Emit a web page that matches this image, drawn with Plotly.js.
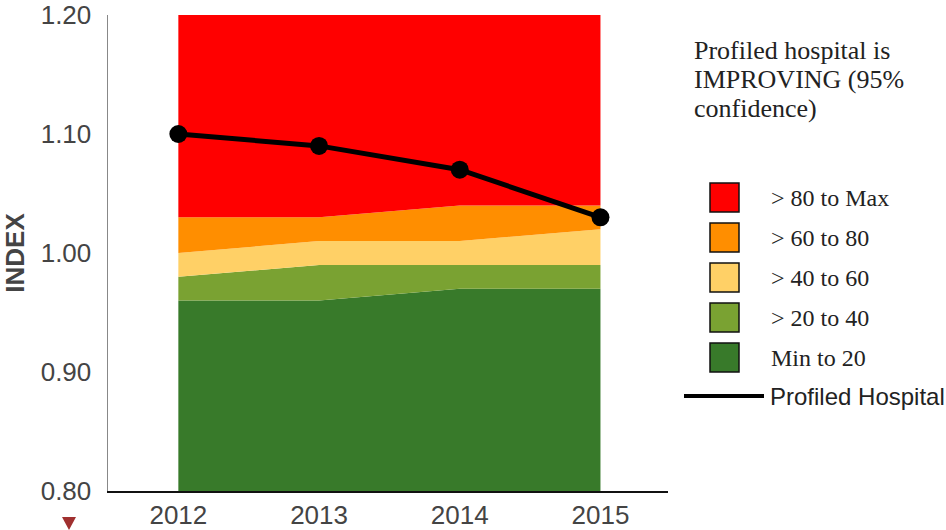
<!DOCTYPE html>
<html>
<head>
<meta charset="utf-8">
<script src="https://cdn.plot.ly/plotly-3.0.1.min.js"></script>
<style>html,body{margin:0;padding:0;background:#fff;}#chart{width:946px;height:530px;}</style>
</head>
<body>
<div id="chart"></div>
<script>
// ---- data ----
const years = [2012, 2013, 2014, 2015];
const bandNames = ["Min to 20", "> 20 to 40", "> 40 to 60", "> 60 to 80", "> 80 to Max"];
const bandColors = ["#387A2A", "#7AA232", "#FFD066", "#FF8E00", "#FF0000"];
// upper boundary of each band (cumulative)
const bandMin20   = [0.96, 0.96, 0.97, 0.97];
const band20to40  = [0.98, 0.99, 0.99, 0.99];
const band40to60  = [1.00, 1.01, 1.01, 1.02];
const band60to80  = [1.03, 1.03, 1.04, 1.04];
const band80toMax = [1.20, 1.20, 1.20, 1.20];
const hospital    = [1.10, 1.09, 1.07, 1.03];
const yTicks = [0.80, 0.90, 1.00, 1.10, 1.20];
const yTickText = ["0.80", "0.90", "1.00", "1.10", "1.20"];
const statusLines = ["Profiled hospital is", "IMPROVING (95%", "confidence)"];
const lineLegend = "Profiled Hospital";

const bands = [bandMin20, band20to40, band40to60, band60to80, band80toMax];
const traces = bands.map((b, i) => ({
  type: "scatter", mode: "lines", x: years, y: b, name: bandNames[i],
  line: {width: 0, color: bandColors[i]}, fill: i === 0 ? "tozeroy" : "tonexty",
  fillcolor: bandColors[i], hoverinfo: "skip", showlegend: false
}));
traces.push({
  type: "scatter", mode: "lines+markers", x: years, y: hospital, name: lineLegend,
  line: {color: "#000", width: 5}, marker: {color: "#000", size: 18}, showlegend: false,
  cliponaxis: false
});

const px = x => (x - 108) / 560;
const py = y => 1 - (y - 15) / 476;
const shapes = [];
const annotations = [];
// legend swatches
const legOrder = [4, 3, 2, 1, 0];
legOrder.forEach((bi, k) => {
  const top = 183 + k * 40;
  shapes.push({type: "rect", xref: "paper", yref: "paper",
    x0: px(710), x1: px(739), y0: py(top + 29), y1: py(top),
    fillcolor: bandColors[bi], line: {color: "#111", width: 1.5}});
  annotations.push({xref: "paper", yref: "paper", x: px(769), y: py(top + 15),
    xanchor: "left", yanchor: "middle", showarrow: false, text: bandNames[bi],
    font: {family: "Liberation Serif, Times New Roman, serif", size: 24, color: "#222"}});
});
shapes.push({type: "line", xref: "paper", yref: "paper",
  x0: px(684), x1: px(764), y0: py(396), y1: py(396),
  line: {color: "#000", width: 4}});
annotations.push({xref: "paper", yref: "paper", x: px(768), y: py(396),
  xanchor: "left", yanchor: "middle", showarrow: false, text: lineLegend,
  font: {family: "Liberation Sans, Arial, sans-serif", size: 24, color: "#222"}});
statusLines.forEach((t, k) => {
  annotations.push({xref: "paper", yref: "paper", x: px(692), y: py(51 + k * 29),
    xanchor: "left", yanchor: "middle", align: "left", showarrow: false, text: t,
    font: {family: "Liberation Serif, Times New Roman, serif", size: 26, color: "#222"}});
});
// small down-pointing marker under the y axis
shapes.push({type: "path", xref: "paper", yref: "paper",
  path: "M " + px(62) + " " + py(517) + " L " + px(76) + " " + py(517) + " L " + px(69) + " " + py(530) + " Z",
  fillcolor: "#A0302F", line: {width: 0}});

const layout = {
  width: 946, height: 530,
  margin: {l: 108, r: 278, t: 15, b: 39},
  paper_bgcolor: "#fff", plot_bgcolor: "#fff",
  showlegend: false,
  xaxis: {range: [2011.5, 2015.48], tickvals: years, ticktext: years.map(String),
    showgrid: false, zeroline: false, showline: true, linecolor: "#111", linewidth: 1.5,
    ticks: "", ticklabelstandoff: 0,
    tickfont: {family: "Liberation Sans, Arial, sans-serif", size: 26, color: "#444"}},
  yaxis: {range: [0.80, 1.20], tickvals: yTicks, ticktext: yTickText,
    showgrid: false, zeroline: false, showline: true, linecolor: "#888", linewidth: 1.5,
    ticks: "", ticklabelstandoff: 10,
    tickfont: {family: "Liberation Sans, Arial, sans-serif", size: 26, color: "#444"},
    title: {text: "INDEX", standoff: 14, font: {family: "Liberation Sans, Arial, sans-serif", size: 26, color: "#444", weight: "bold"}}},
  shapes: shapes, annotations: annotations
};
Plotly.newPlot("chart", traces, layout, {displayModeBar: false, staticPlot: true});
</script>
</body>
</html>
